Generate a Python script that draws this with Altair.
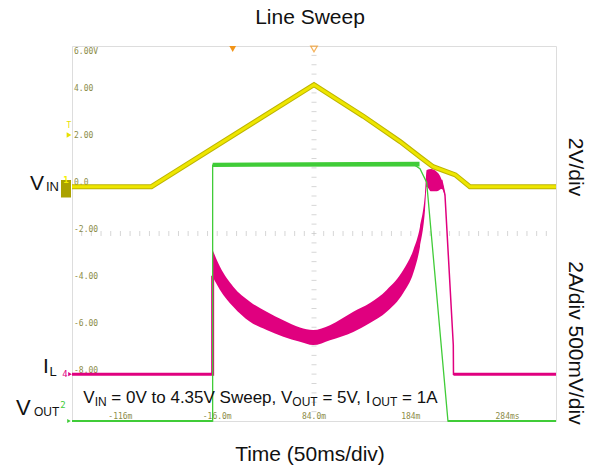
import numpy as np
import pandas as pd
import altair as alt

# ---- screen geometry (scope grid) ----
T_MIN, T_MAX = -166, 334          # time, ms (50 ms/div, 10 div)
V_MIN, V_MAX = -10, 6             # CH1 scale, V (2 V/div, 8 div)

# ---- CH1: input voltage (V) ----
vin_t = [-166, -84, 84, 135, 173, 194, 207, 230, 245, 334]
vin_v = [0, 0, 4.35, 3.0, 1.92, 1.25, 0.85, 0.5, 0, 0]

# ---- CH2: output voltage, divisions above its ground marker ----
vout_t = [-166, -20.7, -20.7, 120, 185, 193.5, 200.4, 222.4, 334]
vout_div = [0, 0, 5.46, 5.47, 5.5, 5.38, 5.09, 0, 0]
vout_band_t = [-20.7, 193]
vout_band_lo = [5.42, 5.43]
vout_band_hi = [5.51, 5.53]

# ---- CH4: inductor current (A) ----
il_pre_t = [-166, -20.7, -20.7]
il_pre = [0, 0, 4.2]
il_post_t = [215.9, 219.3, 227.9, 228.1, 334]
il_post = [8.29, 7.65, 1.24, 0, 0]
il_band_t = [-20.7, -13.1, 0.6, 17.9, 35.1, 52.3, 69.5, 83, 100.5, 124.6, 141.8,
             159.1, 176.2, 186.6, 193.5, 198.7, 200.4, 205, 210.7, 215.9, 219.3]
il_band_hi = [5.30, 4.58, 3.73, 3.09, 2.66, 2.30, 1.99, 1.88, 2.09, 2.66, 3.03,
              3.59, 4.44, 5.30, 6.29, 7.73, 8.71, 8.75, 8.64, 8.29, 7.7]
il_band_lo = [4.15, 3.59, 2.87, 2.23, 1.88, 1.59, 1.38, 1.24, 1.45, 1.80, 2.18,
              2.66, 3.46, 4.31, 5.44, 7.0, 8.0, 7.8, 7.8, 7.9, 7.6]

# ---- on-screen readouts ----
y_tick_vals = [4, 2, 0, -2, -4, -6, -8]
y_tick_text = ["4.00", "2.00", "0.0", "-2.00", "-4.00", "-6.00", "-8.00"]
y_top_text = "6.00V"
x_tick_vals = [-116, -16, 84, 184, 284]
x_tick_text = ["-116m", "-16.0m", "84.0m", "184m", "284ms"]
trig_t = [0, 84]          # trigger point / horizontal position markers
trig_level = 2.2          # CH1 trigger level, V

# channel positions on the CH1 grid
CH2_GND, CH2_SCALE = -10, 2.0     # ground at bottom line, 2 grid-V per division
CH4_GND, CH4_SCALE = -8, 1.0      # 2 A/div drawn on 2 V/div grid

FONT = "Liberation Sans"
MONO = "DejaVu Sans Mono"
YEL_EDGE, YEL = "#BDB400", "#EEE600"
GRN = "#40CC38"
MAG = "#E0007F"
ORG = "#F29418"
READOUT = "#8C8C48"

xs = alt.Scale(domain=[T_MIN, T_MAX], nice=False, zero=False)
ys = alt.Scale(domain=[V_MIN, V_MAX], nice=False, zero=False)
X = lambda f="t": alt.X(f"{f}:Q", scale=xs, axis=None)
Y = lambda f="y": alt.Y(f"{f}:Q", scale=ys, axis=None)

df_vin = pd.DataFrame({"t": vin_t, "y": vin_v})
df_vout = pd.DataFrame({"t": vout_t, "y": [CH2_GND + CH2_SCALE * d for d in vout_div]})
df_vout_band = pd.DataFrame({"t": vout_band_t,
                             "lo": [CH2_GND + CH2_SCALE * d for d in vout_band_lo],
                             "hi": [CH2_GND + CH2_SCALE * d for d in vout_band_hi]})
df_il_pre = pd.DataFrame({"t": il_pre_t, "y": [CH4_GND + CH4_SCALE * a for a in il_pre]})
df_il_post = pd.DataFrame({"t": il_post_t, "y": [CH4_GND + CH4_SCALE * a for a in il_post]})
df_il_band = pd.DataFrame({"t": il_band_t,
                           "lo": [CH4_GND + CH4_SCALE * a for a in il_band_lo],
                           "hi": [CH4_GND + CH4_SCALE * a for a in il_band_hi]})

grid_t = list(range(T_MIN + 50, T_MAX, 50))
grid_v = list(range(V_MIN + 2, V_MAX, 2))

base = alt.Chart(df_vin).mark_line(opacity=0).encode(
    x=alt.X("t:Q", scale=xs, axis=alt.Axis(values=grid_t, grid=True, gridColor="#dadada",
                                           labels=False, ticks=False, domain=True,
                                           domainColor="#555555", domainWidth=1.5, title=None)),
    y=alt.Y("y:Q", scale=ys, axis=alt.Axis(values=grid_v, grid=True, gridColor="#dadada",
                                           labels=False, ticks=False, domain=True,
                                           domainColor="#555555", domainWidth=1.5, title=None)),
)

# minor ticks on the centre cross-hair
h_ticks = pd.DataFrame({"t": np.arange(T_MIN + 10, T_MAX, 10), "y": -2})
v_ticks = pd.DataFrame({"t": 84, "y": np.arange(V_MIN + 0.4, V_MAX, 0.4)})
h_tick_layer = alt.Chart(h_ticks).mark_tick(orient="vertical", size=5, thickness=1,
                                            color="#c4c4c4").encode(x=X(), y=Y())
v_tick_layer = alt.Chart(v_ticks).mark_tick(orient="horizontal", size=5, thickness=1,
                                            color="#c4c4c4").encode(x=X(), y=Y())

# readouts
ylab = alt.Chart(pd.DataFrame({"y": y_tick_vals, "s": y_tick_text})).mark_text(
    font=MONO, fontSize=8, color=READOUT, align="left", baseline="alphabetic", dx=2, dy=-1.5
).encode(x=alt.value(0), y=Y(), text="s:N")
ytop = alt.Chart(pd.DataFrame({"y": [V_MAX], "s": [y_top_text]})).mark_text(
    font=MONO, fontSize=8, color=READOUT, align="left", baseline="top", dx=2, dy=2
).encode(x=alt.value(0), y=Y(), text="s:N")
xlab = alt.Chart(pd.DataFrame({"t": x_tick_vals, "s": x_tick_text})).mark_text(
    font=MONO, fontSize=8, color=READOUT, align="center", baseline="alphabetic"
).encode(x=X(), y=alt.value(373), text="s:N")

# traces
il_band = alt.Chart(df_il_band).mark_area(color=MAG, interpolate="monotone", opacity=1).encode(
    x=X(), y=Y("hi"), y2="lo:Q")
il_pre_l = alt.Chart(df_il_pre).mark_line(color=MAG, strokeWidth=3).encode(x=X(), y=Y())
il_post_l = alt.Chart(df_il_post).mark_line(color=MAG, strokeWidth=1.5).encode(x=X(), y=Y())
il_flat_r = alt.Chart(df_il_post[df_il_post.t > 228]).mark_line(color=MAG, strokeWidth=3).encode(x=X(), y=Y())

vout_band = alt.Chart(df_vout_band).mark_area(color=GRN).encode(x=X(), y=Y("hi"), y2="lo:Q")
vout_l = alt.Chart(df_vout).mark_line(color=GRN, strokeWidth=1.3).encode(x=X(), y=Y())
vout_gnd = alt.Chart(df_vout[df_vout.y <= CH2_GND]).mark_line(color=GRN, strokeWidth=2).encode(
    x=X(), y=Y(), detail=alt.Detail("seg:N")).transform_calculate(seg="datum.t < 0 ? 'a' : 'b'")

vin_edge = alt.Chart(df_vin).mark_line(color=YEL_EDGE, strokeWidth=5).encode(x=X(), y=Y())
vin_core = alt.Chart(df_vin).mark_line(color=YEL, strokeWidth=3).encode(x=X(), y=Y())

# trigger / position markers at the top edge
trig_df = pd.DataFrame({"t": trig_t, "kind": ["trig", "pos"]})
trig_fill = alt.Chart(trig_df[trig_df.kind == "trig"]).mark_point(
    shape="triangle-down", filled=True, color=ORG, size=45, opacity=1
).encode(x=X(), y=alt.value(3))
trig_pos = alt.Chart(trig_df[trig_df.kind == "pos"]).mark_point(
    shape="triangle-down", filled=False, color=ORG, size=45, strokeWidth=1.2
).encode(x=X(), y=alt.value(3))

# channel markers on the left edge
lvl = alt.Chart(pd.DataFrame({"y": [trig_level]})).mark_point(
    shape="triangle-right", filled=True, color="#E8E000", size=30, opacity=1
).encode(x=alt.value(-3), y=Y())
lvl_t = alt.Chart(pd.DataFrame({"y": [trig_level + 0.37], "s": ["T"]})).mark_text(
    font=MONO, fontSize=8, color="#E8E000"
).encode(x=alt.value(-3), y=Y(), text="s:N")
ch1_box = alt.Chart(pd.DataFrame({"a": [0]})).mark_rect(color="#ABA200").encode(
    x=alt.value(-11), x2=alt.value(-1), y=alt.value(134), y2=alt.value(151.5))
ch1_num = alt.Chart(pd.DataFrame({"y": [0.3], "s": ["1"]})).mark_text(
    font=MONO, fontSize=9, color="#F5F000", fontWeight="bold"
).encode(x=alt.value(-6), y=Y(), text="s:N")
ch4_num = alt.Chart(pd.DataFrame({"y": [CH4_GND], "s": ["4"]})).mark_text(
    font=MONO, fontSize=9, color=MAG, align="center", baseline="middle"
).encode(x=alt.value(-7), y=Y(), text="s:N")
ch4_arr = alt.Chart(pd.DataFrame({"y": [CH4_GND]})).mark_point(
    shape="triangle-right", filled=True, color=MAG, size=18, opacity=1
).encode(x=alt.value(-2), y=Y())
ch2_num = alt.Chart(pd.DataFrame({"y": [CH2_GND + 0.7], "s": ["2"]})).mark_text(
    font=MONO, fontSize=9, color=GRN, align="center", baseline="middle"
).encode(x=alt.value(-9), y=Y(), text="s:N")
ch2_arr = alt.Chart(pd.DataFrame({"y": [CH2_GND]})).mark_point(
    shape="triangle-right", filled=True, color=GRN, size=18, opacity=1
).encode(x=alt.value(-3), y=Y())

# ---- text outside / over the grid ----
ARIAL_W = {" ": 278, "=": 584, ".": 278, ",": 278, "/": 278, "(": 333, ")": 333,
           "A": 667, "I": 278, "N": 722, "O": 778, "S": 667, "T": 611, "U": 722, "V": 667,
           "d": 556, "e": 556, "i": 222, "m": 833, "o": 556, "p": 556, "s": 500, "t": 278,
           "v": 500, "w": 722}
for dgt in "0123456789":
    ARIAL_W[dgt] = 556


def text_width(s, size):
    return sum(ARIAL_W.get(c, 556) for c in s) * size / 1000.0


def label(s, x, y, size, align="left", baseline="alphabetic", angle=0, color="#111111"):
    kw = dict(font=FONT, fontSize=size, align=align, baseline=baseline, color=color)
    if angle:
        kw["angle"] = angle
    return alt.Chart(pd.DataFrame({"s": [s]})).mark_text(**kw).encode(
        x=alt.value(x), y=alt.value(y), text="s:N")


def rich(pieces, x0, y_main, y_sub, main, sub):
    """Lay out text runs with subscripts side by side."""
    out, x = [], x0
    for s, is_sub in pieces:
        size = sub if is_sub else main
        lead = len(s) - len(s.lstrip(" "))
        out.append(label(s.strip(), x + lead * 0.278 * size, y_sub if is_sub else y_main, size))
        x += text_width(s, size)
    return out


texts = [
    label("Line Sweep", 238, -22.5, 21, align="center"),
    label("Time (50ms/div)", 238, 415, 21, align="center"),
    label("2V/div", 503, 121, 21, align="center", baseline="middle", angle=90),
    label("2A/div 500mV/div", 503, 297, 21, align="center", baseline="middle", angle=90),
    label("V", -42, 144, 21), label("IN", -26, 144.7, 13),
    label("I", -29, 327.3, 21), label("L", -22.5, 329.7, 13),
    label("V", -56, 369, 22), label("OUT", -38, 369.7, 12),
]
texts += rich([("V", False), ("IN", True), (" = 0V to 4.35V Sweep, V", False), ("OUT", True),
               (" = 5V, I", False), ("OUT", True), (" = 1A", False)],
              11.3, 357.3, 359.7, 17, 12)

chart = alt.layer(
    base, h_tick_layer, v_tick_layer, ylab, ytop, xlab,
    il_band, il_pre_l, il_post_l, il_flat_r,
    vout_band, vout_l, vout_gnd,
    vin_edge, vin_core,
    trig_fill, trig_pos, lvl, lvl_t, ch1_box, ch1_num, ch4_num, ch4_arr, ch2_num, ch2_arr,
    *texts,
).properties(
    width=484, height=375,
    padding={"left": 72, "top": 46, "right": 37, "bottom": 50},
    autosize="none",
).configure_view(stroke="#8a8a8a", strokeWidth=1.5).configure(background="white")

chart.save("out.html", embed_options={"renderer": "svg", "actions": False})
